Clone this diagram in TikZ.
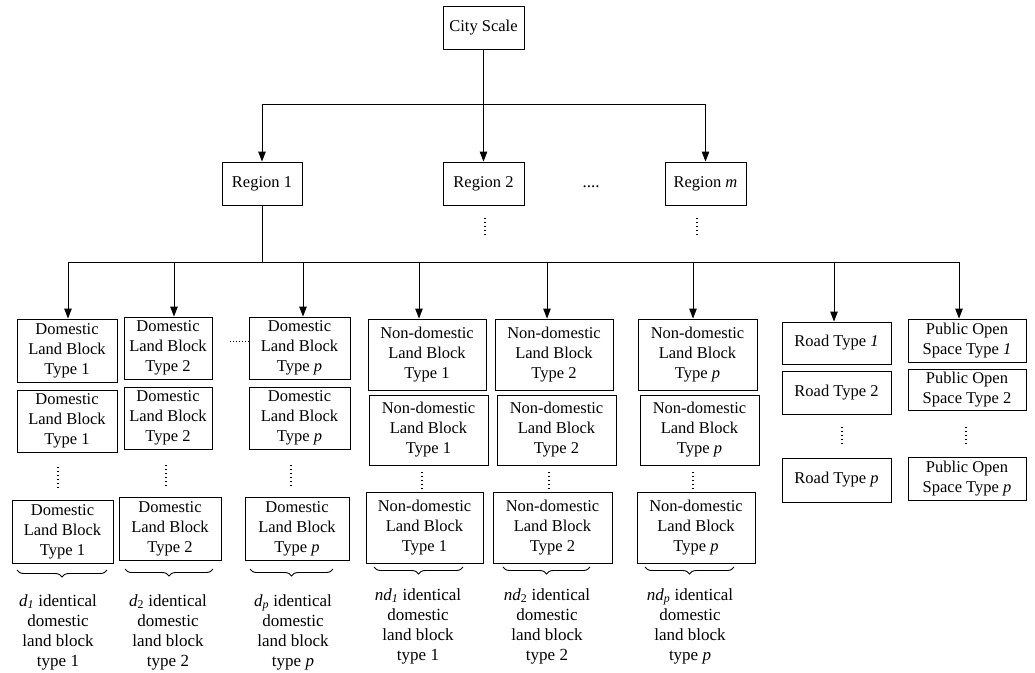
\documentclass[tikz,border=0pt]{standalone}
\usepackage{fontspec}
\setmainfont{Liberation Serif}
\usetikzlibrary{arrows.meta,decorations.pathreplacing}
\newcommand\dtxt[1]{Domestic\\Land Block\\Type #1}
\newcommand\ndtxt[1]{Non-domestic\\Land Block\\Type #1}
\newcommand\btxt[2]{#1 identical\\domestic\\land block\\type #2}
\tikzset{
 bx/.style={draw, line width=0.9pt, inner sep=0pt, align=center, font=\fontsize{16.5}{20}\selectfont},
 arr/.style={line width=0.9pt, -{Triangle[length=10pt,width=7.5pt]}},
 ln/.style={line width=0.9pt},
 vd/.style={line width=1.1pt, dash pattern=on 1pt off 3pt},
 lbl/.style={align=center, inner sep=0pt, font=\fontsize{17}{20}\selectfont},
 brc/.style={decorate, decoration={brace,mirror,amplitude=7pt}, line width=0.9pt}
}
\begin{document}
\begin{tikzpicture}[x=1pt,y=-1pt]
\useasboundingbox (0,0) rectangle (1035,672);
% top
\node[bx, minimum width=81pt, minimum height=43pt] (city) at (483.5,27.5) {City Scale};
\node[bx, minimum width=80pt, minimum height=43pt] (r1) at (262,183.5) {Region 1};
\node[bx, minimum width=81pt, minimum height=43pt] (r2) at (483.5,183.5) {Region 2};
\node[bx, minimum width=81pt, minimum height=43pt] (rm) at (705.5,183.5) {Region \textit{m}};
\node[lbl] (rdots) at (591,187) {....};
\coordinate (j1) at (483.5,104);
\draw[arr] (city) -- (r2);
\draw[arr] (j1) -| (r1.north);
\draw[arr] (j1) -| (rm.north);
\draw[vd] (485,218) -- (485,236);
\draw[vd] (697,218) -- (697,236);
% second level bus
\coordinate (j2) at (262,262);
\draw[ln] (r1) -- (j2);
\foreach \n/\x in {a1/68,a2/174,a3/303,a4/419,a5/547,a6/693,a7/834,a8/959}
  \coordinate (\n) at (\x,262);
\draw[ln] (a1) -- (a8);
% domestic columns
\node[bx, minimum width=100pt, minimum height=63pt] (d1a) at (67,350.5) {\dtxt{1}};
\node[bx, minimum width=100pt, minimum height=62pt] (d1b) at (67,421) {\dtxt{1}};
\node[bx, minimum width=101pt, minimum height=63pt] (d1c) at (62.5,531.5) {\dtxt{1}};
\node[bx, minimum width=88pt, minimum height=62pt] (d2a) at (168,348) {\dtxt{2}};
\node[bx, minimum width=88pt, minimum height=62pt] (d2b) at (168,418) {\dtxt{2}};
\node[bx, minimum width=102pt, minimum height=63pt] (d2c) at (170,528.5) {\dtxt{2}};
\node[bx, minimum width=101pt, minimum height=62pt] (dpa) at (299.5,348) {\dtxt{\textit{p}}};
\node[bx, minimum width=101pt, minimum height=62pt] (dpb) at (299.5,418) {\dtxt{\textit{p}}};
\node[bx, minimum width=104pt, minimum height=63pt] (dpc) at (297,528.5) {\dtxt{\textit{p}}};
\draw[vd] (58,467) -- (58,489);
\draw[vd] (166,465) -- (166,486);
\draw[vd] (291,465) -- (291,486);
\coordinate (hd1) at (230,341);
\draw[line width=1pt, dash pattern=on 1pt off 2pt] (hd1) -- (hd1 -| dpa.west);
% non-domestic columns
\node[bx, minimum width=118pt, minimum height=71pt] (n1a) at (427,354.5) {\ndtxt{1}};
\node[bx, minimum width=119pt, minimum height=70pt] (n1b) at (428.5,430) {\ndtxt{1}};
\node[bx, minimum width=117pt, minimum height=71pt] (n1c) at (424.5,527.5) {\ndtxt{1}};
\node[bx, minimum width=118pt, minimum height=71pt] (n2a) at (554,354.5) {\ndtxt{2}};
\node[bx, minimum width=119pt, minimum height=70pt] (n2b) at (556.5,430) {\ndtxt{2}};
\node[bx, minimum width=119pt, minimum height=71pt] (n2c) at (552.5,527.5) {\ndtxt{2}};
\node[bx, minimum width=119pt, minimum height=71pt] (npa) at (697.5,354.5) {\ndtxt{\textit{p}}};
\node[bx, minimum width=119pt, minimum height=70pt] (npb) at (699.5,430) {\ndtxt{\textit{p}}};
\node[bx, minimum width=118pt, minimum height=71pt] (npc) at (696,527.5) {\ndtxt{\textit{p}}};
\draw[vd] (422,472) -- (422,490);
\draw[vd] (549,472) -- (549,490);
\draw[vd] (693,472) -- (693,490);
% road and public open space
\node[bx, minimum width=109pt, minimum height=42pt] (ro1) at (836.5,343) {Road Type \textit{1}};
\node[bx, minimum width=109pt, minimum height=43pt] (ro2) at (836.5,392.5) {Road Type 2};
\node[bx, minimum width=109pt, minimum height=44pt] (rop) at (836.5,480) {Road Type \textit{p}};
\node[bx, minimum width=118pt, minimum height=43pt] (po1) at (967,340.5) {Public Open\\Space Type \textit{1}};
\node[bx, minimum width=118pt, minimum height=41pt] (po2) at (967,389.5) {Public Open\\Space Type 2};
\node[bx, minimum width=118pt, minimum height=43pt] (pop) at (967,478.5) {Public Open\\Space Type \textit{p}};
\draw[vd] (842,427) -- (842,446);
\draw[vd] (966,427) -- (966,446);
% arrows from bus
\draw[arr] (a1) -- (a1 |- d1a.north);
\draw[arr] (a2) -- (a2 |- d2a.north);
\draw[arr] (a3) -- (a3 |- dpa.north);
\draw[arr] (a4) -- (a4 |- n1a.north);
\draw[arr] (a5) -- (a5 |- n2a.north);
\draw[arr] (a6) -- (a6 |- npa.north);
\draw[arr] (a7) -- (a7 |- ro1.north);
\draw[arr] (a8) -- (a8 |- po1.north);
% braces
\draw[brc] (17,570) -- (107,570);
\draw[brc] (125,569) -- (213,569);
\draw[brc] (250,569) -- (333,569);
\draw[brc] (374,567) -- (463,567);
\draw[brc] (503,567) -- (590,567);
\draw[brc] (645,567) -- (734,567);
% captions
\node[lbl] (t1) at (58,632) {\btxt{\textit{d}\textsubscript{\textit{1}}}{1}};
\node[lbl] (t2) at (168,632) {\btxt{\textit{d}\textsubscript{2}}{2}};
\node[lbl] (t3) at (293,632) {\btxt{\textit{d}\textsubscript{\textit{p}}}{\textit{p}}};
\node[lbl] (t4) at (418,626) {\btxt{\textit{nd}\textsubscript{\textit{1}}}{1}};
\node[lbl] (t5) at (547,626) {\btxt{\textit{nd}\textsubscript{2}}{2}};
\node[lbl] (t6) at (690,626) {\btxt{\textit{nd}\textsubscript{\textit{p}}}{\textit{p}}};
\end{tikzpicture}
\end{document}
